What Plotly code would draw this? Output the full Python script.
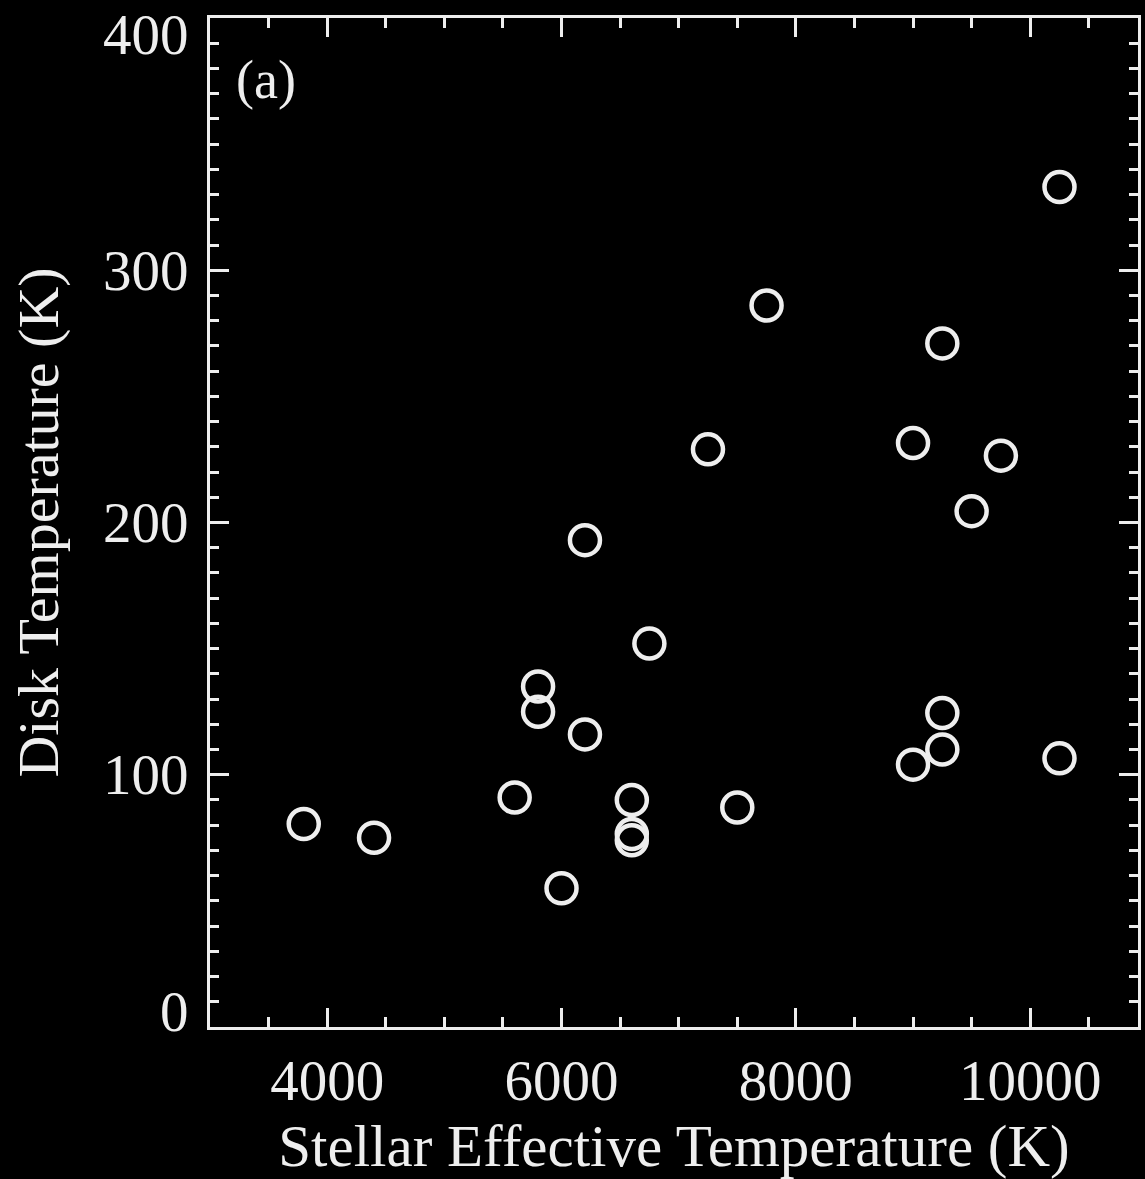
import plotly.graph_objects as go

# Stellar effective temperature (K) and fitted disk temperature (K)
stellar_teff = [3800, 4400, 5600, 6000, 5800, 5800, 6200, 6200, 6600, 6600, 6600,
                6750, 7250, 7500, 7750, 9000, 9000, 9250, 9250, 9250, 9500, 9750,
                10250, 10250]
disk_temp = [80.5, 75, 91, 55, 135, 125, 116, 193, 90, 76.5, 74,
             152, 229, 87, 286, 231.5, 104, 271, 124.5, 110, 204.5, 226.5,
             333, 106.5]

x_range = [3000, 10920]
y_range = [0, 400]
x_ticks = [4000, 6000, 8000, 10000]
y_ticks = [0, 100, 200, 300, 400]

FG = "#eeeeee"
FONT = "Liberation Serif, Times New Roman, serif"

fig = go.Figure(
    go.Scatter(
        x=stellar_teff,
        y=disk_temp,
        mode="markers",
        marker=dict(symbol="circle-open", size=30, color=FG, line=dict(width=4.5, color=FG)),
        hoverinfo="x+y",
    )
)

axis_common = dict(
    showgrid=False,
    zeroline=False,
    showline=True,
    linecolor=FG,
    linewidth=3,
    mirror="allticks",
    ticks="inside",
    tickcolor=FG,
    tickwidth=2.5,
    ticklen=19,
    tickfont=dict(family=FONT, size=57, color=FG),
)

fig.update_xaxes(
    **axis_common,
    range=x_range,
    tickvals=x_ticks,
    ticktext=[str(v) for v in x_ticks],
    ticklabelstandoff=2,
    minor=dict(dtick=500, ticks="inside", ticklen=10, tickwidth=2.5, tickcolor=FG),
    title=dict(text="Stellar Effective Temperature (K)",
               font=dict(family=FONT, size=59, color=FG), standoff=22),
)
fig.update_yaxes(
    **axis_common,
    range=y_range,
    tickvals=y_ticks,
    showticklabels=False,
    minor=dict(dtick=10, ticks="inside", ticklen=9, tickwidth=2.5, tickcolor=FG),
    title=dict(text="Disk Temperature (K)",
               font=dict(family=FONT, size=58, color=FG), standoff=130),
)

# y tick labels; the end labels are nudged inward so they stay on the page
label_shift = {0: 16, 400: -16}
for v in y_ticks:
    fig.add_annotation(
        text=str(v), xref="paper", yref="y", x=-0.021, y=v,
        xanchor="right", yanchor="middle", showarrow=False,
        yshift=label_shift.get(v, 0),
        font=dict(family=FONT, size=57, color=FG),
    )

fig.add_annotation(
    text="(a)", xref="paper", yref="paper", x=0.026, y=0.939,
    xanchor="left", yanchor="middle", showarrow=False,
    font=dict(family=FONT, size=54, color=FG),
)

fig.update_layout(
    width=1145,
    height=1179,
    margin=dict(l=210, r=7, t=18, b=152, autoexpand=False),
    paper_bgcolor="black",
    plot_bgcolor="black",
    showlegend=False,
)

fig.write_html("out.html")
